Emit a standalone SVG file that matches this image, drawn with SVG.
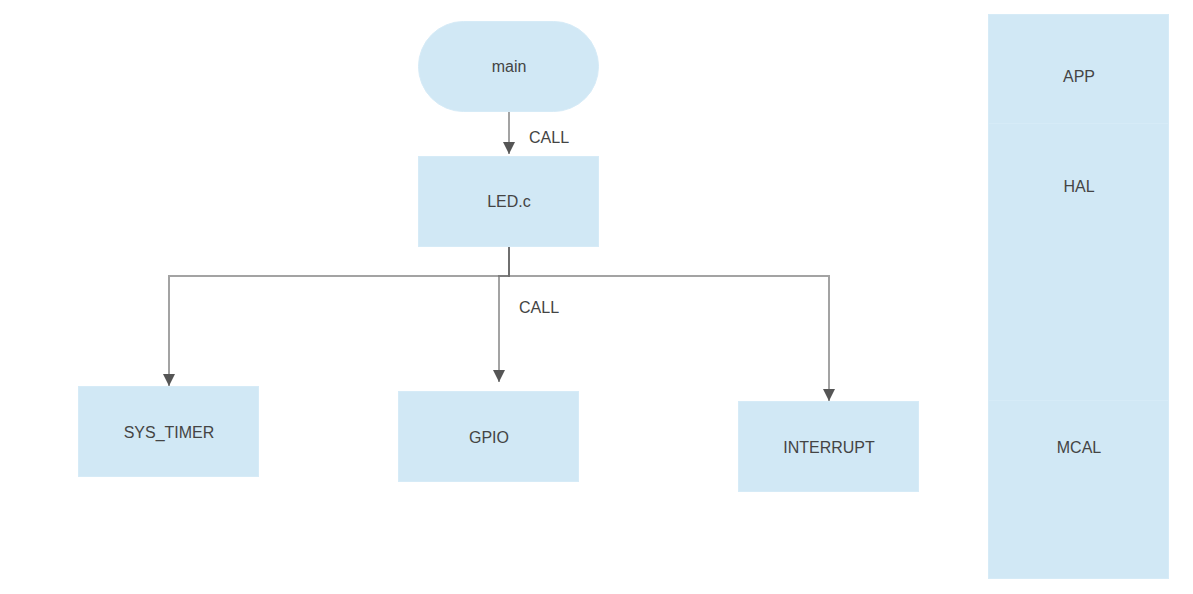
<svg xmlns="http://www.w3.org/2000/svg" width="1193" height="594" viewBox="0 0 1193 594">
<defs>
<style>
.box{fill:#d1e8f5;stroke:#d6ebf7;stroke-width:1}
.lbl{font-family:"Liberation Sans",Arial,sans-serif;font-size:16px;fill:#444;text-anchor:middle;dominant-baseline:central}
.elbl{font-family:"Liberation Sans",Arial,sans-serif;font-size:16px;fill:#444}
.edge{fill:none;stroke:#666;stroke-opacity:0.6;stroke-width:2}
</style>
<marker id="arr" viewBox="0 0 12 12" refX="12" refY="6" markerWidth="12" markerHeight="12" markerUnits="userSpaceOnUse" orient="auto">
<path d="M0,0 L12,6 L0,12 Z" fill="#555"/>
</marker>
</defs>
<rect width="1193" height="594" fill="#fff"/>
<g id="layers">
<g id="APP"><rect class="box" x="988.5" y="14.5" width="180" height="125"/><text class="lbl" x="1079" y="76">APP</text></g>
<g id="HAL"><rect class="box" x="988.5" y="123.5" width="180" height="277"/><text class="lbl" x="1079" y="186">HAL</text></g>
<g id="MCAL"><rect class="box" x="988.5" y="400.5" width="180" height="178"/><text class="lbl" x="1079" y="447">MCAL</text></g>
</g>
<g id="main"><rect class="box" x="418.5" y="21.5" width="180" height="90" rx="45" ry="45"/><text class="lbl" x="509" y="66.5">main</text></g>
<g id="LED"><rect class="box" x="418.5" y="156.5" width="180" height="90"/><text class="lbl" x="509" y="201">LED.c</text></g>
<g id="SYS_TIMER"><rect class="box" x="78.5" y="386.5" width="180" height="90"/><text class="lbl" x="169" y="432">SYS_TIMER</text></g>
<g id="GPIO"><rect class="box" x="398.5" y="391.5" width="180" height="90"/><text class="lbl" x="489" y="437">GPIO</text></g>
<g id="INTERRUPT"><rect class="box" x="738.5" y="401.5" width="180" height="90"/><text class="lbl" x="829" y="447">INTERRUPT</text></g>
<g id="connectors">
<path class="edge" d="M509,112 L509,154" marker-end="url(#arr)"/>
<text class="elbl" x="529" y="143">CALL</text>
<path class="edge" d="M509,247 L509,276 L169,276 L169,386" marker-end="url(#arr)"/>
<path class="edge" d="M509,247 L509,276 L499,276 L499,382" marker-end="url(#arr)"/>
<path class="edge" d="M509,247 L509,276 L829,276 L829,401" marker-end="url(#arr)"/>
<text class="elbl" x="519" y="313">CALL</text>
</g>
</svg>
